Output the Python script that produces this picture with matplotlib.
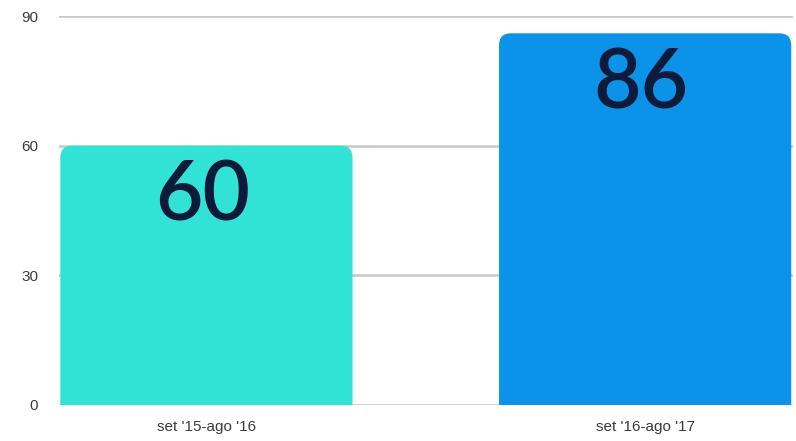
import matplotlib
matplotlib.use("Agg")
import matplotlib.pyplot as plt
from matplotlib.patches import FancyBboxPatch

categories = ["set '15-ago '16", "set '16-ago '17"]
values = [60, 86]
value_labels = ["60", "86"]
yticks = [0, 30, 60, 90]
bar_colors = ["#30E3D4", "#0A93E8"]

fig = plt.figure(figsize=(7.96, 4.41), dpi=100)
ax = fig.add_axes([59/796, 1 - 405/441, (793-59)/796, 389/441])

x = list(range(len(categories)))
width = 0.666
bars = ax.bar(x, values, width=width, color=bar_colors, zorder=3)

ax.set_xlim(-0.336, 1.337)
ax.set_ylim(0, 90)

# rounded top corners
rx = 12 / 440.0
ry = 12 / (389 / 90.0)
for b, c in zip(bars, bar_colors):
    b.set_visible(False)
    p = FancyBboxPatch((b.get_x(), -ry * 2), b.get_width(), b.get_height() + ry * 2,
                       boxstyle=f"round,pad=0,rounding_size={rx}",
                       mutation_aspect=ry / rx, facecolor=c, edgecolor="none",
                       zorder=3, clip_on=True)
    ax.add_patch(p)

for xi, v, lab in zip(x, values, value_labels):
    ax.annotate(lab, (xi, v), xytext=(-4, -14), textcoords="offset pixels",
                ha="center", va="top", fontsize=59, color="#0D1A3A",
                family="Lato", fontweight="semibold", zorder=4)

ax.set_yticks(yticks)
ax.set_yticklabels([str(t) for t in yticks])
ax.set_xticks(x)
ax.set_xticklabels(categories)
ax.tick_params(axis="both", length=0, labelsize=11, labelcolor="#3A3A3A")
ax.tick_params(axis="y", pad=15)
ax.tick_params(axis="x", pad=11)
for lab in ax.get_xticklabels() + ax.get_yticklabels():
    lab.set_family("Liberation Sans")

ax.grid(axis="y", color="#C8C8C8", linewidth=1.8, zorder=1)
for s in ax.spines.values():
    s.set_visible(False)
ax.set_axisbelow(True)

fig.savefig("out.png", dpi=100)
